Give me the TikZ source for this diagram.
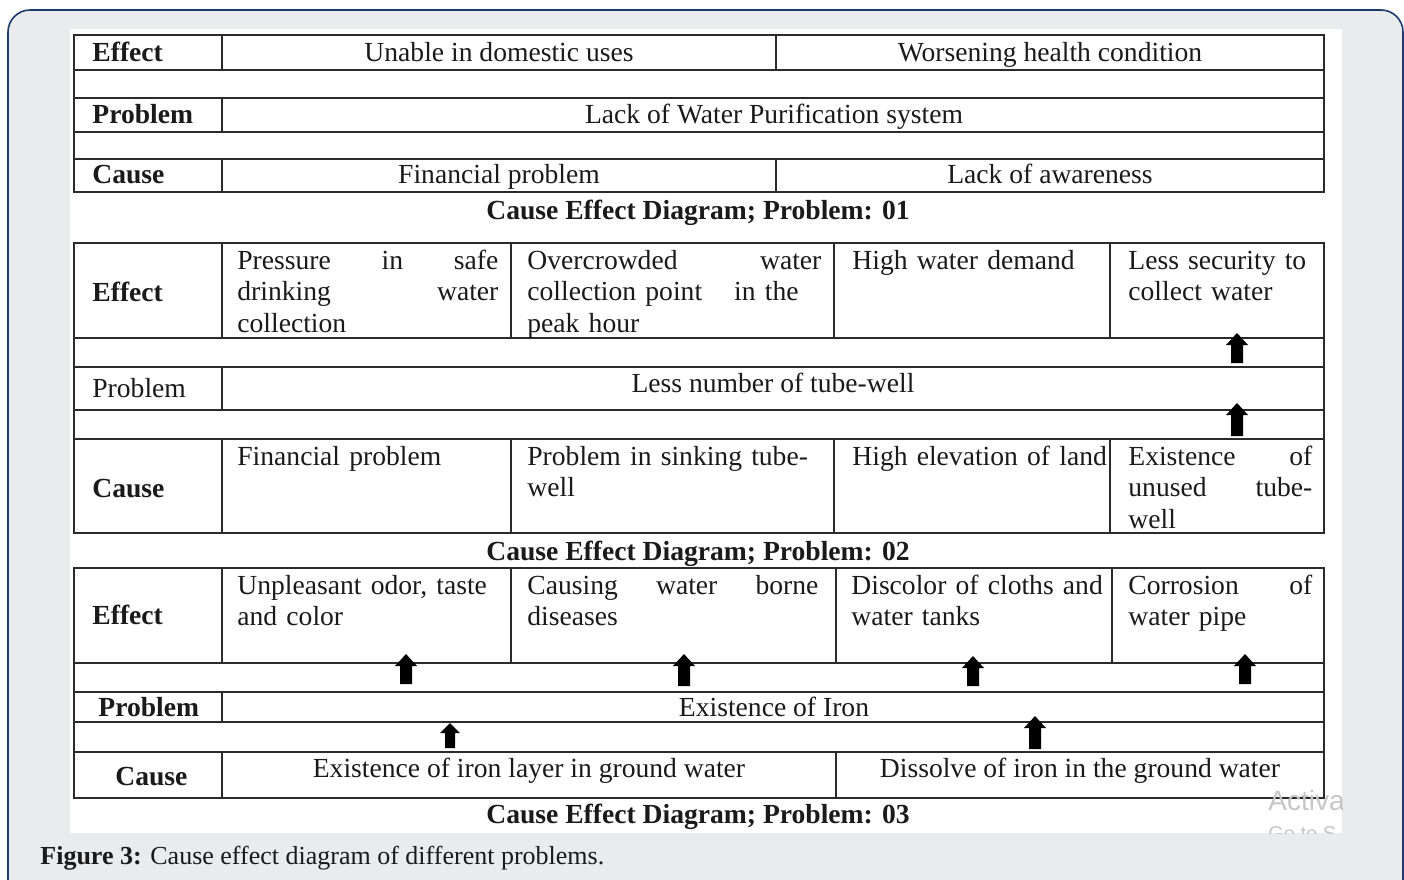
\documentclass[tikz,border=0pt]{standalone}
\usepackage{fontspec}
\setmainfont{Liberation Serif}
\newfontfamily\wmfont{Liberation Sans}
\definecolor{panelgray}{HTML}{EAEBED}
\definecolor{panelblue}{HTML}{1C3A6B}
\definecolor{ink}{HTML}{1A1A1A}
\definecolor{tabline}{HTML}{2B2B2B}
\definecolor{wmgray}{HTML}{C6C6C6}
\newcommand\cellsize{\fontsize{13.8}{15.75}\selectfont}
\newcommand\figsize{\fontsize{13}{15}\selectfont}
\tikzset{
	tabrule/.style={draw=tabline, line width=1.1pt},
	cell/.style={inner sep=0pt, text=ink, font=\cellsize},
	lab/.style={cell, anchor=base west},
	mid/.style={cell, anchor=base},
	para/.style={cell, anchor=north west, align=left},
	diacap/.style={cell, anchor=base, font=\cellsize\bfseries},
	blockup/.style={fill=black},
}
\begin{document}
\begin{tikzpicture}[x=0.5pt,y=-0.5pt]
		\useasboundingbox (0,0) rectangle (1404,879);
		\clip (0,0) rectangle (1404,879);
		\draw[fill=panelgray, draw=panelblue, line width=0.8pt, rounded corners=11pt] (8,10) rectangle (1403,920);
		\fill[white] (70,29) rectangle (1342,833);
		
		% Problem 01
		\draw[tabrule] (74,35) rectangle (1324,192);
		\foreach \y in {70,98,132,159}{
			\draw[tabrule] (74,\y) -- (1324,\y);
		}
		\foreach \a/\b in {35/70, 98/132, 159/192}{
			\draw[tabrule] (222,\a) -- (222,\b);
		}
		\draw[tabrule] (776,35) -- (776,70);
		\draw[tabrule] (776,159) -- (776,192);
		\node[lab, font=\cellsize\bfseries] (oneeff) at (92,61) {Effect};
		\node[lab, font=\cellsize\bfseries] (oneprob) at (92,123) {Problem};
		\node[lab, font=\cellsize\bfseries] (onecause) at (92,183) {Cause};
		\node[mid] (oneeffa) at (499,61) {Unable in domestic uses};
		\node[mid] (oneeffb) at (1050,61) {Worsening health condition};
		\node[mid] (oneprobtxt) at (774,123) {Lack of Water Purification system};
		\node[mid] (onecausea) at (499,183) {Financial problem};
		\node[mid] (onecauseb) at (1050,183) {Lack of awareness};
		\node[diacap] (onecap) at (698,219) {Cause Effect Diagram; Problem: 01};
		
		% Problem 02
		\draw[tabrule] (74,243) rectangle (1324,533);
		\foreach \y in {338,367,410,439}{
			\draw[tabrule] (74,\y) -- (1324,\y);
		}
		\foreach \a/\b in {243/338, 367/410, 439/533}{
			\draw[tabrule] (222,\a) -- (222,\b);
		}
		\foreach \x in {511,834,1110}{
			\draw[tabrule] (\x,243) -- (\x,338);
			\draw[tabrule] (\x,439) -- (\x,533);
		}
		\node[lab, font=\cellsize\bfseries] (twoeff) at (92,301) {Effect};
		\node[lab] (twoprob) at (92,397) {Problem};
		\node[lab, font=\cellsize\bfseries] (twocause) at (92,497) {Cause};
		\node[para, text width=130.5pt] (twoeffa) at (237,247) {\strut Pressure\hfill in\hfill safe\\ drinking\hfill water\\ collection};
		\node[para, text width=147pt] (twoeffb) at (527,247) {\strut Overcrowded\hfill water\\ collection point\hspace{16pt}in the\\ peak hour};
		\node[para, text width=135pt] (twoeffc) at (852,247) {\strut High water demand};
		\node[para, text width=92pt] (twoeffd) at (1128,247) {\strut Less security to\\ collect water};
		\node[mid] (twoprobtxt) at (773,392) {Less number of tube-well};
		\node[para, text width=130.5pt] (twocausea) at (237,443) {\strut Financial problem};
		\node[para, text width=147pt] (twocauseb) at (527,443) {\strut Problem in sinking tube-\\ well};
		\node[para, text width=135pt] (twocausec) at (852,443) {\strut High elevation of land};
		\node[para, text width=92pt] (twocaused) at (1128,443) {\strut Existence\hfill of\\ unused\hfill tube-\\ well};
		\node[diacap] (twocap) at (698,560) {Cause Effect Diagram; Problem: 02};
		
		% Problem 03
		\draw[tabrule] (74,568) rectangle (1324,798);
		\foreach \y in {663,692,722,752}{
			\draw[tabrule] (74,\y) -- (1324,\y);
		}
		\foreach \a/\b in {568/663, 692/722, 752/798}{
			\draw[tabrule] (222,\a) -- (222,\b);
		}
		\foreach \x in {511,836,1112}{
			\draw[tabrule] (\x,568) -- (\x,663);
		}
		\draw[tabrule] (836,752) -- (836,798);
		\node[lab, font=\cellsize\bfseries] (threeeff) at (92,624) {Effect};
		\node[lab, font=\cellsize\bfseries] (threeprob) at (98,716) {Problem};
		\node[lab, font=\cellsize\bfseries] (threecause) at (115,785) {Cause};
		\node[para, text width=130.5pt] (threeeffa) at (237,572) {\strut Unpleasant odor, taste\\ and color};
		\node[para, text width=145.5pt] (threeeffb) at (527,572) {\strut Causing\hfill water\hfill borne\\ diseases};
		\node[para, text width=135pt] (threeeffc) at (851,572) {\strut Discolor of cloths and\\ water tanks};
		\node[para, text width=92pt] (threeeffd) at (1128,572) {\strut Corrosion\hfill of\\ water pipe};
		\node[mid] (threeprobtxt) at (774,716) {Existence of Iron};
		\node[mid] (threecausea) at (529,777) {Existence of iron layer in ground water};
		\node[mid] (threecauseb) at (1080,777) {Dissolve of iron in the ground water};
		\node[diacap] (threecap) at (698,823) {Cause Effect Diagram; Problem: 03};
		
		% block arrows
		\foreach \x/\t/\b in {1237/333/363, 1237/403/436, 406/654/684, 684/654/686, 973/656/686, 1245/654/684, 1035/716/749}{
			\fill[blockup] (\x,\t) -- (\x+11,\t+12) -- (\x+6,\t+12) -- (\x+6,\b) -- (\x-6,\b) -- (\x-6,\t+12) -- (\x-11,\t+12) -- cycle;
		}
		\fill[blockup] (450,723) -- (460,733) -- (455,733) -- (455,748) -- (445,748) -- (445,733) -- (440,733) -- cycle;
		
		\begin{scope}
			\clip (70,29) rectangle (1342,833);
			\node[anchor=base west, inner sep=0pt, text=wmgray, font=\wmfont\fontsize{14}{16}\selectfont] (wmone) at (1268,810) {Activa};
			%\node[anchor=base west] at (1268,840) {};
			\node[anchor=base west, inner sep=0pt, text=wmgray, font=\wmfont\fontsize{10}{12}\selectfont] (wmtwo) at (1268,840) {Go to S};
		\end{scope}
		
		\node[anchor=base west, inner sep=0pt, text=ink, font=\figsize] (figcap) at (40,864) {\textbf{Figure 3:} Cause effect diagram of different problems.};
\end{tikzpicture}
\end{document}
